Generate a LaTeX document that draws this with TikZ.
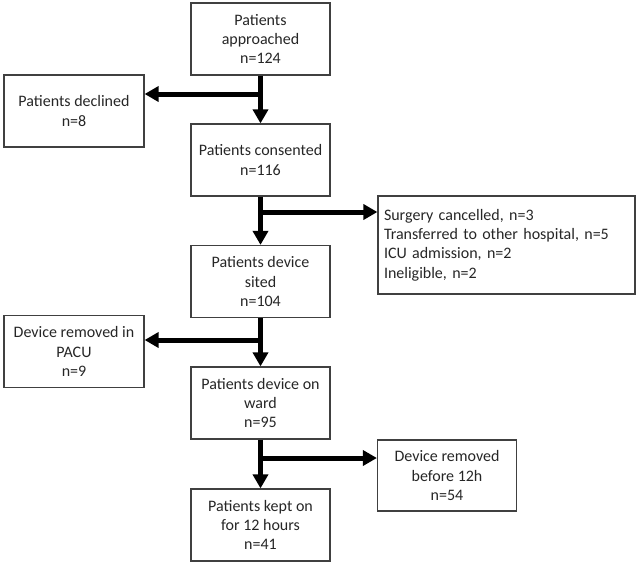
\documentclass[tikz,border=0pt]{standalone}
\usepackage{fontspec}
\setmainfont{Carlito}
\usetikzlibrary{arrows.meta}
\begin{document}
\begin{tikzpicture}[x=1pt,y=-1pt,
	box/.style={draw=black!75,line width=1.2pt,text=black!85,minimum width=139pt,minimum height=72pt,align=center,inner sep=2pt,font=\fontsize{16}{19.3}\selectfont},
	flow/.style={line width=5pt,-{Triangle[width=15pt,length=14pt]}}]
	\useasboundingbox (0,0) rectangle (637,565);
	%			Main chain
	\node[box] (appr) at (260.5,39) {Patients\\approached\\n=124};
	\node[box] (cons) at (260.5,160) {Patients consented\\n=116};
	\node[box] (sited) at (260.5,281.5) {Patients device\\sited\\n=104};
	\node[box] (ward) at (260.5,403) {Patients device on\\ward\\n=95};
	\node[box] (kept) at (260.5,525) {Patients kept on\\for 12 hours\\n=41};
	%			Side boxes
	\node[box,minimum width=140pt] (decl) at (74,111) {Patients declined\\n=8};
	\node[box,align=left,text width=245pt,inner xsep=6pt,minimum height=98pt] (canc) at (506.5,245) {Surgery cancelled, n=3\\Transferred to other hospital, n=5\\ICU admission, n=2\\Ineligible, n=2};
	\node[box,minimum width=140pt] (pacu) at (74,351.5) {Device removed in\\PACU\\n=9};
	\node[box,minimum height=71pt] (remv) at (447,475.5) {Device removed\\before 12h\\n=54};
	%			Branch points
	\coordinate (b1) at (260.5,94);
	\coordinate (b2) at (260.5,212);
	\coordinate (b3) at (260.5,340);
	\coordinate (b4) at (260.5,458);
	%			Arrows
	\draw[flow] (appr) -- (cons);
	\draw[flow] (cons) -- (sited);
	\draw[flow] (sited) -- (ward);
	\draw[flow] (ward) -- (kept);
	\draw[flow] (b1) -- (b1 -| decl.east);
	\draw[flow] (b2) -- (b2 -| canc.west);
	\draw[flow] (b3) -- (b3 -| pacu.east);
	\draw[flow] (b4) -- (b4 -| remv.west);
\end{tikzpicture}
\end{document}
